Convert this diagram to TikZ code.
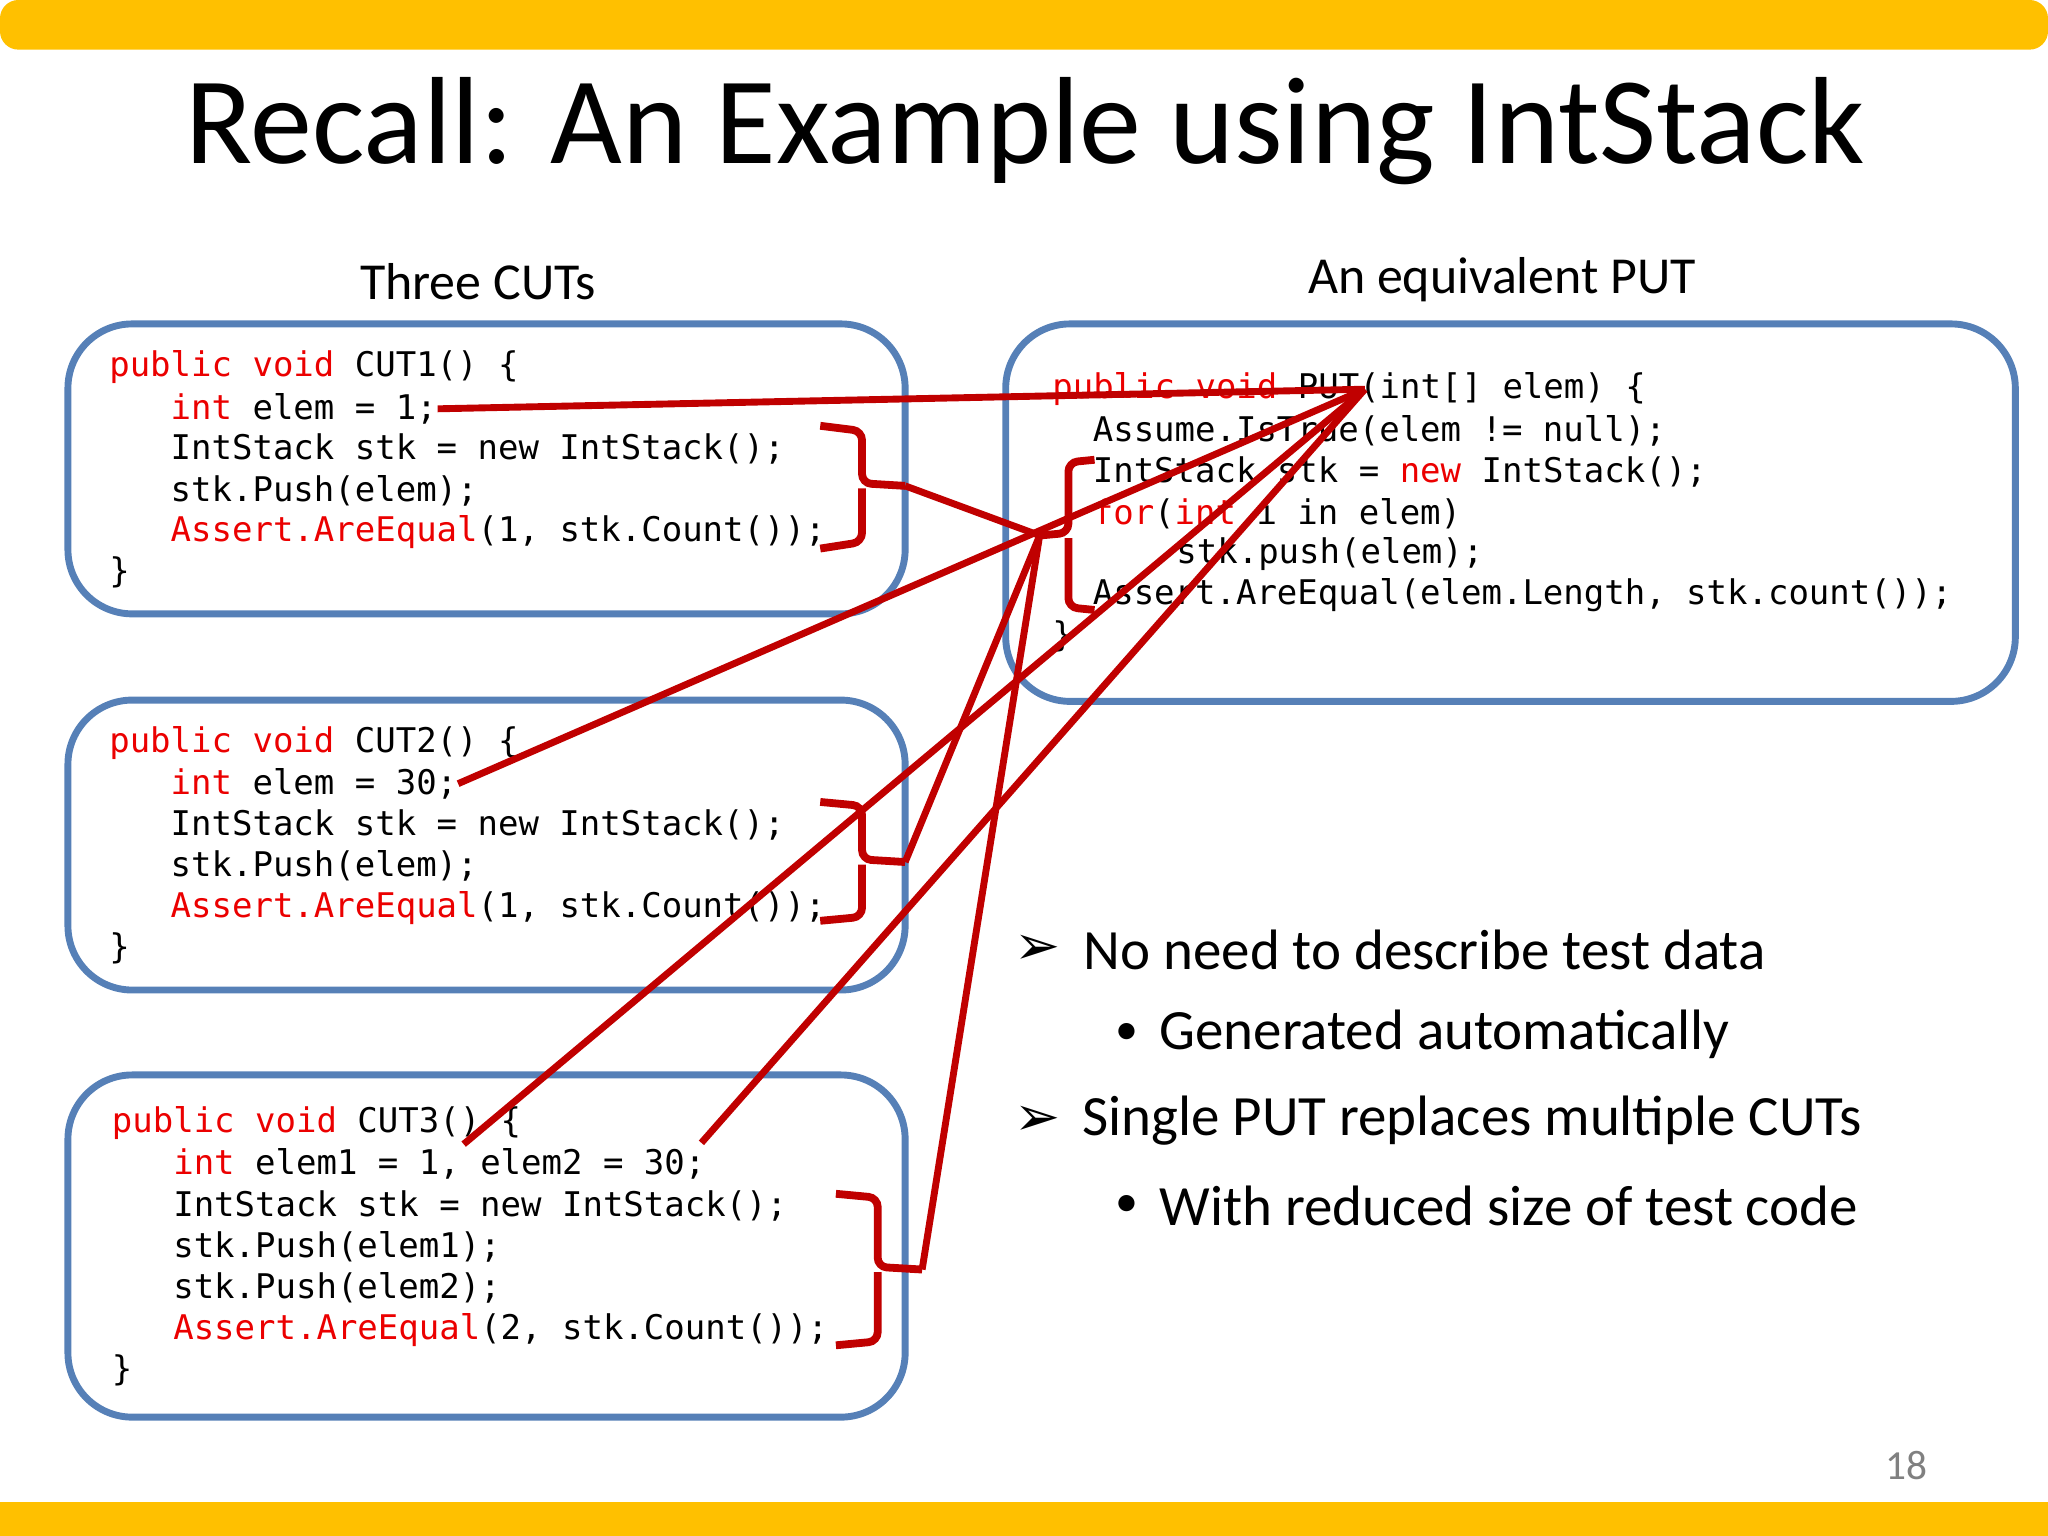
\documentclass[tikz,border=0pt]{standalone}
\usepackage{fontspec}
\setmainfont{Carlito}
\newfontfamily\codefont{DejaVu Sans Mono}
\begin{document}
\begin{tikzpicture}[x=0.01cm,y=-0.01cm,
  box/.style={draw=boxblue,line width=1.5pt,rounded corners=14pt},
  code/.style={anchor=west,inner sep=0pt,font=\codefont\fontsize{7.4}{8}\selectfont},
  redline/.style={draw=lred,line width=1.5pt},
  brace/.style={draw=lred,line width=1.7pt,rounded corners=2pt},
  btext/.style={anchor=west,inner sep=0pt,font=\fontsize{12.4}{15}\selectfont}]
\definecolor{boxblue}{RGB}{86,128,183}
\definecolor{lred}{RGB}{192,0,0}
\definecolor{kw}{RGB}{235,0,0}
\definecolor{gold}{RGB}{255,192,0}
\useasboundingbox (0,0) rectangle (1568,1176);
\fill[gold,rounded corners=4pt] (0,0) rectangle (1568,38);
\fill[gold] (0,1150) rectangle (1568,1176);
\node[font=\fontsize{27}{32}\selectfont] (title) at (785,100) {Recall: An Example using IntStack};
\node[font=\fontsize{11.3}{14}\selectfont] (h1) at (366,216) {Three CUTs};
\node[font=\fontsize{11.3}{14}\selectfont] (h2) at (1150,214) {An equivalent PUT};
\draw[box] (52,248) rectangle (693,470);
\draw[box] (52,536) rectangle (693,758);
\draw[box] (52,823) rectangle (693,1085);
\draw[box] (770,248) rectangle (1543,537);
% CUT1
\node[code] (a1) at (83,281) {\textcolor{kw}{public void} CUT1() \{};
\node[code] (a2) at (130,313) {\textcolor{kw}{int} elem = 1;};
\node[code] (a3) at (130,344) {IntStack stk = new IntStack();};
\node[code] (a4) at (130,376) {stk.Push(elem);};
\node[code] (a5) at (130,407) {\textcolor{kw}{Assert.AreEqual}(1, stk.Count());};
\node[code] (a6) at (83,438) {\}};
% CUT2
\node[code] (b1) at (83,569) {\textcolor{kw}{public void} CUT2() \{};
\node[code] (b2) at (130,600) {\textcolor{kw}{int} elem = 30;};
\node[code] (b3) at (130,632) {IntStack stk = new IntStack();};
\node[code] (b4) at (130,663) {stk.Push(elem);};
\node[code] (b5) at (130,695) {\textcolor{kw}{Assert.AreEqual}(1, stk.Count());};
\node[code] (b6) at (83,726) {\}};
% CUT3
\node[code] (c1) at (85,860) {\textcolor{kw}{public void} CUT3() \{};
\node[code] (c2) at (132,891) {\textcolor{kw}{int} elem1 = 1, elem2 = 30;};
\node[code] (c3) at (132,923) {IntStack stk = new IntStack();};
\node[code] (c4) at (132,955) {stk.Push(elem1);};
\node[code] (c5) at (132,986) {stk.Push(elem2);};
\node[code] (c6) at (132,1018) {\textcolor{kw}{Assert.AreEqual}(2, stk.Count());};
\node[code] (c7) at (85,1049) {\}};
% PUT
\node[code] (p1) at (805,298) {\textcolor{kw}{public void} PUT(int[] elem) \{};
\node[code] (p2) at (836,330) {Assume.IsTrue(elem != null);};
\node[code] (p3) at (836,361) {IntStack stk = \textcolor{kw}{new} IntStack();};
\node[code] (p4) at (836,393) {\textcolor{kw}{for}(\textcolor{kw}{int} i in elem)};
\node[code] (p5) at (900,424) {stk.push(elem);};
\node[code] (p6) at (836,456) {Assert.AreEqual(elem.Length, stk.count());};
\node[code] (p7) at (805,487) {\}};
% braces
\coordinate (t1) at (693,372);
\coordinate (t2) at (693,660);
\coordinate (t3) at (706,972);
\coordinate (hub) at (796,410);
\coordinate (pp) at (1045,298);
\draw[brace] (628,326) -- (660,330) -- (660,370) -- (t1) (660,374) -- (660,415) -- (628,420);
\draw[brace] (628,614) -- (660,617) -- (660,658) -- (t2) (660,662) -- (660,702) -- (628,705);
\draw[brace] (640,914) -- (672,917) -- (672,970) -- (t3) (672,974) -- (672,1027) -- (640,1030);
\draw[brace] (838,352) -- (818,354) -- (818,408) -- (hub) (818,412) -- (818,465) -- (838,467);
% connectors
\draw[redline] (a2.east) -- (pp);
\draw[redline] (b2.east) -- (pp);
\draw[redline] (355,876) -- (pp);
\draw[redline] (537,875) -- (pp);
\draw[redline] (t1) -- (hub);
\draw[redline] (t2) -- (hub);
\draw[redline] (t3) -- (hub);
% bullets
\node[btext,font=\fontsize{12}{15}\selectfont\fontspec{DejaVu Sans}] (k1) at (776,727) {➢};
\node[btext] (l1) at (829,727) {No need to describe test data};
\node[btext,font=\fontsize{10}{12}\selectfont] (k2) at (853,792) {•};
\node[btext] (l2) at (887,792) {Generated automatically};
\node[btext,font=\fontsize{12}{15}\selectfont\fontspec{DejaVu Sans}] (k3) at (776,858) {➢};
\node[btext] (l3) at (828,858) {Single PUT replaces multiple CUTs};
\node[btext,font=\fontsize{10}{12}\selectfont] (k4) at (853,923) {•};
\node[btext] (l4) at (887,923) {With reduced size of test code};
\node[text=gray,font=\fontsize{9}{11}\selectfont] (pg) at (1460,1122) {18};
\end{tikzpicture}
\end{document}
